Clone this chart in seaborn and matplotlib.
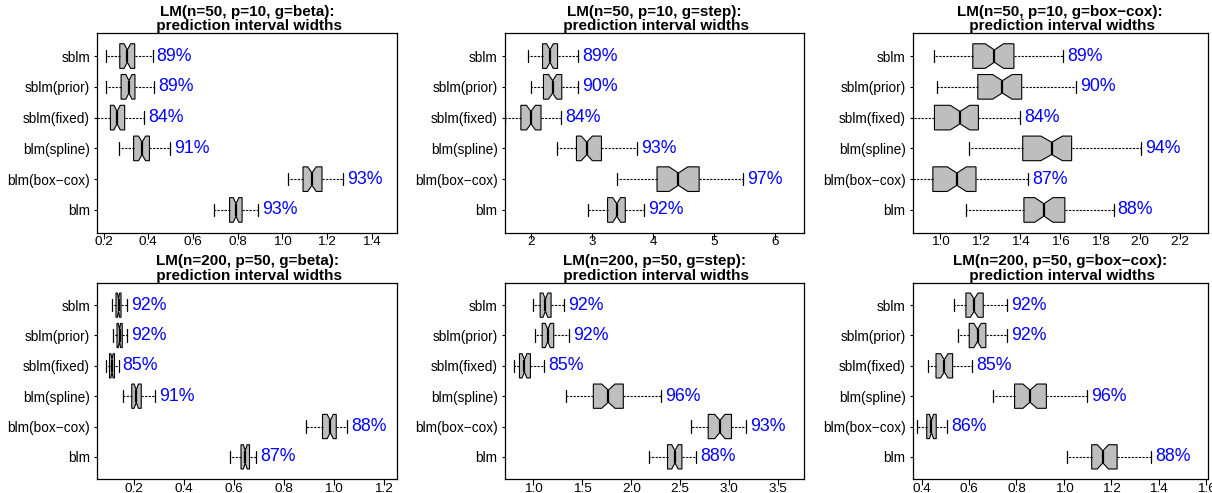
import numpy as np
import pandas as pd
import seaborn as sns
import matplotlib.pyplot as plt

sns.set_style("ticks")
plt.rcParams["font.family"] = ["Liberation Sans", "DejaVu Sans"]
plt.rcParams["axes.unicode_minus"] = True
plt.rcParams["text.color"] = "black"
plt.rcParams["xtick.color"] = "black"
plt.rcParams["ytick.color"] = "black"
plt.rcParams["xtick.labelcolor"] = "black"
plt.rcParams["ytick.labelcolor"] = "black"

# Methods, listed top to bottom as they appear on each panel
methods = ["sblm", "sblm(prior)", "sblm(fixed)", "blm(spline)", "blm(box\u2212cox)", "blm"]

# Five-number summaries of prediction-interval widths (one entry per method)
# n=50, p=10, g=beta
beta50_lo  = [0.212, 0.211, 0.160, 0.267, 1.024, 0.694]
beta50_q1  = [0.272, 0.278, 0.230, 0.334, 1.093, 0.764]
beta50_med = [0.306, 0.313, 0.260, 0.372, 1.133, 0.793]
beta50_q3  = [0.339, 0.340, 0.294, 0.405, 1.178, 0.820]
beta50_hi  = [0.419, 0.424, 0.382, 0.499, 1.272, 0.891]
beta50_cov = [89, 89, 84, 91, 93, 93]

# n=50, p=10, g=step
step50_lo  = [1.951, 1.995, 1.569, 2.420, 3.400, 2.930]
step50_q1  = [2.185, 2.200, 1.830, 2.740, 4.060, 3.250]
step50_med = [2.306, 2.350, 1.995, 2.910, 4.410, 3.400]
step50_q3  = [2.431, 2.500, 2.160, 3.150, 4.750, 3.540]
step50_hi  = [2.770, 2.770, 2.490, 3.730, 5.470, 3.840]
step50_cov = [89, 90, 84, 93, 97, 92]

# n=50, p=10, g=box-cox
bc50_lo  = [0.968, 0.985, 0.830, 1.143, 0.830, 1.127]
bc50_q1  = [1.162, 1.187, 0.970, 1.412, 0.962, 1.418]
bc50_med = [1.270, 1.310, 1.098, 1.557, 1.082, 1.518]
bc50_q3  = [1.368, 1.407, 1.190, 1.657, 1.178, 1.623]
bc50_hi  = [1.615, 1.680, 1.397, 2.003, 1.440, 1.867]
bc50_cov = [89, 90, 84, 94, 87, 88]

# n=200, p=50, g=beta
beta200_lo  = [0.114, 0.116, 0.090, 0.157, 0.891, 0.587]
beta200_q1  = [0.130, 0.134, 0.104, 0.193, 0.956, 0.630]
beta200_med = [0.140, 0.144, 0.114, 0.211, 0.987, 0.647]
beta200_q3  = [0.150, 0.155, 0.124, 0.231, 1.011, 0.664]
beta200_hi  = [0.173, 0.173, 0.140, 0.284, 1.054, 0.689]
beta200_cov = [92, 92, 85, 91, 88, 87]

# n=200, p=50, g=step
step200_lo  = [1.000, 1.017, 0.796, 1.333, 2.615, 2.180]
step200_q1  = [1.068, 1.089, 0.857, 1.612, 2.786, 2.370]
step200_med = [1.122, 1.146, 0.908, 1.765, 2.905, 2.446]
step200_q3  = [1.180, 1.207, 0.969, 1.918, 3.024, 2.517]
step200_hi  = [1.310, 1.360, 1.112, 2.300, 3.170, 2.663]
step200_cov = [92, 92, 85, 96, 93, 88]

# n=200, p=50, g=box-cox
bc200_lo  = [0.538, 0.555, 0.428, 0.702, 0.383, 1.011]
bc200_q1  = [0.587, 0.601, 0.461, 0.792, 0.422, 1.117]
bc200_med = [0.622, 0.636, 0.496, 0.857, 0.442, 1.164]
bc200_q3  = [0.660, 0.671, 0.531, 0.926, 0.462, 1.224]
bc200_hi  = [0.759, 0.759, 0.611, 1.096, 0.507, 1.368]
bc200_cov = [92, 92, 85, 96, 86, 88]

titles = [
    "LM(n=50, p=10, g=beta):\n prediction interval widths",
    "LM(n=50, p=10, g=step):\n prediction interval widths",
    "LM(n=50, p=10, g=box\u2212cox):\n prediction interval widths",
    "LM(n=200, p=50, g=beta):\n prediction interval widths",
    "LM(n=200, p=50, g=step):\n prediction interval widths",
    "LM(n=200, p=50, g=box\u2212cox):\n prediction interval widths",
]
xticks = [
    [0.2, 0.4, 0.6, 0.8, 1.0, 1.2, 1.4],
    [2, 3, 4, 5, 6],
    [1.0, 1.2, 1.4, 1.6, 1.8, 2.0, 2.2],
    [0.2, 0.4, 0.6, 0.8, 1.0, 1.2],
    [1.0, 1.5, 2.0, 2.5, 3.0, 3.5],
    [0.4, 0.6, 0.8, 1.0, 1.2, 1.4, 1.6],
]
xticklabels = [
    ["0.2", "0.4", "0.6", "0.8", "1.0", "1.2", "1.4"],
    ["2", "3", "4", "5", "6"],
    ["1.0", "1.2", "1.4", "1.6", "1.8", "2.0", "2.2"],
    ["0.2", "0.4", "0.6", "0.8", "1.0", "1.2"],
    ["1.0", "1.5", "2.0", "2.5", "3.0", "3.5"],
    ["0.4", "0.6", "0.8", "1.0", "1.2", "1.4", "1.6"],
]
xlims = [(0.170, 1.514), (1.562, 6.467), (0.86, 2.34),
         (0.054, 1.254), (0.704, 3.765), (0.362, 1.607)]

panels = [
    (beta50_lo, beta50_q1, beta50_med, beta50_q3, beta50_hi, beta50_cov),
    (step50_lo, step50_q1, step50_med, step50_q3, step50_hi, step50_cov),
    (bc50_lo, bc50_q1, bc50_med, bc50_q3, bc50_hi, bc50_cov),
    (beta200_lo, beta200_q1, beta200_med, beta200_q3, beta200_hi, beta200_cov),
    (step200_lo, step200_q1, step200_med, step200_q3, step200_hi, step200_cov),
    (bc200_lo, bc200_q1, bc200_med, bc200_q3, bc200_hi, bc200_cov),
]

# Each summary point stands for 10 of the 50 simulation replicates, so the
# quartiles stay put and the notch half-width is 1.57*IQR/sqrt(50).
REPS_PER_POINT = 10


def summary_frame(lo, q1, med, q3, hi):
    rows = []
    for m, a, b, c, d, e in zip(methods, lo, q1, med, q3, hi):
        for v in (a, b, c, d, e):
            rows += [(m, v)] * REPS_PER_POINT
    return pd.DataFrame(rows, columns=["method", "width"])


W, H = 1212, 493
fig = plt.figure(figsize=(W / 100, H / 100), dpi=100)
col_px = [(97, 300), (504.5, 299.5), (912.5, 295.5)]
row_px = [(33.3, 232.7), (282.7, 479.3)]

for k, (lo, q1, med, q3, hi, cov) in enumerate(panels):
    r, c = divmod(k, 3)
    left, wpx = col_px[c]
    top, bot = row_px[r]
    ax = fig.add_axes([left / W, 1 - bot / H, wpx / W, (bot - top) / H])

    df = summary_frame(lo, q1, med, q3, hi)
    sns.boxplot(
        data=df, x="width", y="method", order=methods, orient="h", ax=ax,
        color="#BEBEBE", saturation=1, linecolor="black", linewidth=0.8,
        width=0.8, whis=(0, 100), notch=True, fliersize=0,
        whiskerprops={"linestyle": (0, (2.0, 1.2)), "linewidth": 0.8},
        capprops={"linewidth": 0.9},
        medianprops={"linewidth": 1.6, "color": "black"},
    )

    for i, (e, p) in enumerate(zip(hi, cov)):
        ax.annotate(f"{p}%", xy=(e, i), xytext=(3, 0), textcoords="offset points",
                    ha="left", va="center", color="#0000FF", fontsize=12.8)

    ax.set_xlim(*xlims[k])
    ax.set_ylim(5.74, -0.74)
    ax.set_xticks(xticks[k])
    ax.set_xticklabels(xticklabels[k])
    ax.set_xlabel("")
    ax.set_ylabel("")
    ax.tick_params(axis="x", length=4, width=0.8, pad=-1.5, labelsize=9.7,
                   colors="black")
    ax.tick_params(axis="y", length=2.5, width=0.8, pad=2.5, labelsize=9.8,
                   colors="black")
    for s in ax.spines.values():
        s.set_visible(True)
        s.set_linewidth(0.9)
        s.set_color("black")
    ax.set_title(titles[k], fontweight="bold", fontsize=11, pad=1.5,
                 linespacing=1.05, color="black")

fig.savefig("out.png", dpi=100)
